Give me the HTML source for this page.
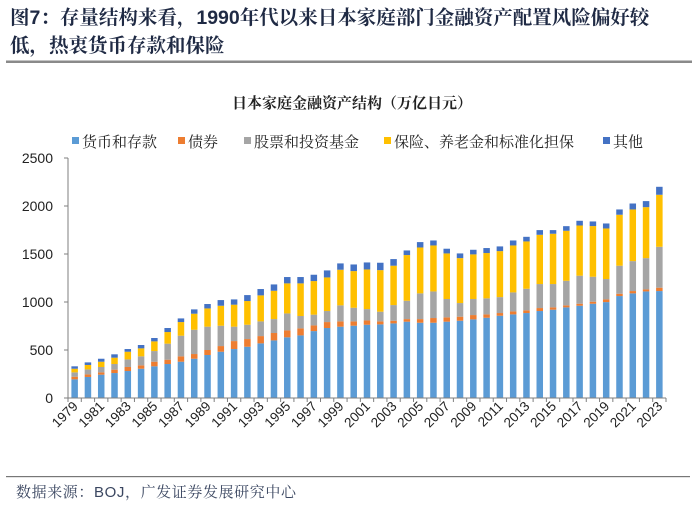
<!DOCTYPE html>
<html><head><meta charset="utf-8"><style>
body{margin:0;width:700px;height:508px;background:#fff;overflow:hidden;font-family:"Liberation Sans","Noto Serif CJK SC",serif}
</style></head><body>
<svg width="700" height="508" xmlns="http://www.w3.org/2000/svg">
<text x="10" y="24" font-size="19.5" font-weight="bold" fill="#1f2a44" font-family="Liberation Sans, Noto Serif CJK SC, serif">图7：存量结构来看，1990年代以来日本家庭部门金融资产配置风险偏好较</text>
<text x="10" y="52" font-size="19.5" font-weight="bold" fill="#1f2a44" font-family="Liberation Sans, Noto Serif CJK SC, serif">低，热衷货币存款和保险</text>
<rect x="6" y="60.5" width="686" height="2.5" fill="#8a8a8a"/>
<text x="352" y="108" font-size="15" font-weight="bold" text-anchor="middle" fill="#222" font-family="Liberation Sans, Noto Serif CJK SC, serif">日本家庭金融资产结构（万亿日元）</text>
<g id="legend"></g>
<g id="plot"></g>
<rect x="6" y="476" width="684" height="1.2" fill="#777"/>
<text x="16" y="497" font-size="15" letter-spacing="0.6" fill="#3a4660" font-family="Liberation Sans, Noto Serif CJK SC, serif">数据来源：BOJ，广发证券发展研究中心</text>
</svg>
<script>
const years = [];
for (let y = 1979; y <= 2023; y++) years.push(String(y));
const cash = [194,219,243,260,281,305,330,354,378,409,448,482,510,534,569,600,632,652,697,729,743,753,763,767,777,795,784,784,795,805,819,836,857,871,885,906,920,944,961,982,999,1062,1090,1110,1114];
const bonds = [28,27,24,35,42,35,48,45,56,49,52,59,83,80,76,77,72,73,59,62,55,45,45,31,28,27,38,49,45,42,45,35,28,31,28,31,24,21,21,21,28,24,24,21,35];
const equity = [45,52,56,59,79,94,111,167,215,253,243,212,150,149,153,145,177,129,112,115,167,142,118,101,163,191,268,277,191,142,167,167,166,198,225,250,243,256,292,260,212,292,312,326,426];
const insurance = [38,46,55,66,80,83,101,121,142,167,190,208,229,247,271,295,313,340,350,350,371,382,413,433,410,476,478,479,475,468,465,472,479,489,493,513,524,521,523,528,527,531,538,531,542];
const other = [25,27,31,35,28,35,35,42,38,45,46,59,55,62,66,66,66,66,66,73,66,69,73,77,69,48,56,52,49,49,48,52,49,52,48,49,38,48,49,48,52,55,62,63,83];
const yTicks = [0,500,1000,1500,2000,2500];
const seriesNames = ["货币和存款","债券","股票和投资基金","保险、养老金和标准化担保","其他"];
const colors = ["#5b9bd5","#ed7d31","#a5a5a5","#ffc000","#4472c4"];
const series = [cash,bonds,equity,insurance,other];
const segNames = ['bar-cash','bar-bonds','bar-equity','bar-insurance','bar-other'];

const NS = "http://www.w3.org/2000/svg";
const plot = document.getElementById('plot');
const x0 = 68, x1 = 666, yBase = 398, yTop = 158, yMax = 2500;
const step = (x1 - x0) / years.length;
const yS = v => yBase - v / yMax * (yBase - yTop);
const xC = i => x0 + step * (i + 0.5);
function mk(tag, attrs, parent) {
  const e = document.createElementNS(NS, tag);
  for (const k in attrs) e.setAttribute(k, attrs[k]);
  parent.appendChild(e);
  return e;
}
let ax = mk('line', {x1:x0, y1:yTop, x2:x0, y2:yBase, stroke:'#7f7f7f', 'stroke-width':1}, plot);


yTicks.forEach(v => {
  const t = mk('line', {x1:x0-4, y1:yS(v), x2:x0, y2:yS(v), stroke:'#7f7f7f'}, plot);
  
  
  const l = mk('text', {x:x0-15, y:yS(v)+5, 'font-size':14, 'text-anchor':'end', fill:'#222', 'font-family':'Liberation Sans, sans-serif'}, plot);
  l.textContent = v;
  
  
});
const bw = 6.5;
years.forEach((yr, i) => {
  let acc = 0;
  series.forEach((s, k) => {
    const v = s[i];
    const r = mk('rect', {x:xC(i)-bw/2, y:yS(acc+v), width:bw, height:yS(acc)-yS(acc+v), fill:colors[k]}, plot);
    
    
    acc += v;
  });
});
let xa = mk('line', {x1:x0, y1:yBase, x2:x1, y2:yBase, stroke:'#7f7f7f', 'stroke-width':1}, plot);


for (let i = 0; i <= years.length; i++) {
  const t = mk('line', {x1:x0+step*i, y1:yBase, x2:x0+step*i, y2:yBase+4, stroke:'#7f7f7f'}, plot);
  
  
}
years.forEach((yr, i) => {
  if (i % 2) return;
  const cx = xC(i) + 4, cy = yBase + 9;
  const l = mk('text', {x:cx, y:cy, 'font-size':13.5, 'text-anchor':'end', fill:'#222', 'font-family':'Liberation Sans, sans-serif', transform:`rotate(-45 ${cx} ${cy})`}, plot);
  l.textContent = yr;
  
  
});
const legend = document.getElementById('legend');
const legX = [72, 178, 244, 384, 603];
seriesNames.forEach((n, k) => {
  const sq = mk('rect', {x:legX[k], y:137, width:7, height:7, fill:colors[k]}, legend);
  
  
  const t = mk('text', {x:legX[k]+10, y:147, 'font-size':15, fill:'#222', 'font-family':'Liberation Sans, Noto Serif CJK SC, serif'}, legend);
  t.textContent = n;
  
  
});
</script>
</body></html>
